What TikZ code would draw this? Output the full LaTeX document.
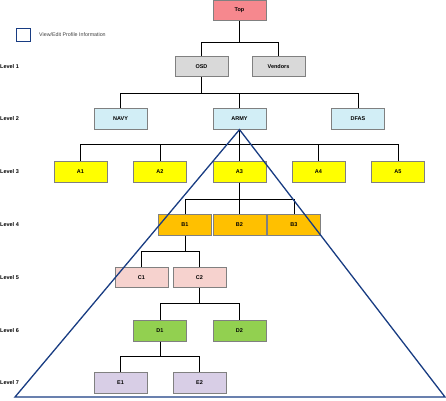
\documentclass[tikz,border=0pt]{standalone}
\usepackage{fontspec}
\setmainfont{Liberation Sans}
\definecolor{cTop}{RGB}{246,136,142}
\definecolor{cGray}{RGB}{217,217,217}
\definecolor{cCyan}{RGB}{210,238,246}
\definecolor{cYel}{RGB}{255,255,0}
\definecolor{cOra}{RGB}{255,192,0}
\definecolor{cPink}{RGB}{246,210,206}
\definecolor{cGreen}{RGB}{146,208,80}
\definecolor{cLav}{RGB}{216,206,230}
\definecolor{cBorder}{RGB}{128,128,128}
\definecolor{cBlue}{RGB}{24,60,130}
\begin{document}
\begin{tikzpicture}[x=1pt,y=-1pt,
  box/.style={draw=cBorder,line width=0.7pt,minimum width=53pt,minimum height=20.5pt,inner sep=0pt,
    font=\fontsize{5.5}{6}\selectfont\bfseries},
  lvl/.style={anchor=west,inner sep=0pt,font=\fontsize{5.5}{6}\selectfont\bfseries},
  conn/.style={draw=black,line width=1pt},
  tri/.style={draw=cBlue,line width=1.3pt,line join=miter}]
\useasboundingbox (0,0) rectangle (446,400);
% legend
\node[draw=cBlue,line width=1.3pt,fill=white,minimum width=14pt,minimum height=13pt,inner sep=0pt] (leg) at (23.5,35) {};
\node[anchor=west,inner sep=0pt,text=black!75,font=\fontsize{5.3}{6}\selectfont] (legt) at (39,35) {View/Edit Profile Information};
% level labels
\node[lvl] (l1) at (0,66.5) {Level 1};
\node[lvl] (l2) at (0,119) {Level 2};
\node[lvl] (l3) at (0,172) {Level 3};
\node[lvl] (l4) at (0,225) {Level 4};
\node[lvl] (l5) at (0,277.5) {Level 5};
\node[lvl] (l6) at (0,331) {Level 6};
\node[lvl] (l7) at (0,383) {Level 7};
% boxes
\node[box,fill=cTop] (top) at (239.5,10.3) {Top};
\node[box,fill=cGray] (osd) at (201.5,66.5) {OSD};
\node[box,fill=cGray] (ven) at (278.5,66.5) {Vendors};
\node[box,fill=cCyan] (navy) at (120.5,119) {NAVY};
\node[box,fill=cCyan] (army) at (239.5,119) {ARMY};
\node[box,fill=cCyan] (dfas) at (358,119) {DFAS};
\node[box,fill=cYel] (a1) at (80.5,172) {A1};
\node[box,fill=cYel] (a2) at (160,172) {A2};
\node[box,fill=cYel] (a3) at (239.5,172) {A3};
\node[box,fill=cYel] (a4) at (318.5,172) {A4};
\node[box,fill=cYel] (a5) at (398,172) {A5};
\node[box,fill=cOra] (b1) at (185,225) {B1};
\node[box,fill=cOra] (b2) at (239.5,225) {B2};
\node[box,fill=cOra] (b3) at (294,225) {B3};
\node[box,fill=cPink] (c1) at (141.5,277.5) {C1};
\node[box,fill=cPink] (c2) at (199.5,277.5) {C2};
\node[box,fill=cGreen] (d1) at (160,331) {D1};
\node[box,fill=cGreen] (d2) at (239.5,331) {D2};
\node[box,fill=cLav] (e1) at (120.5,383) {E1};
\node[box,fill=cLav] (e2) at (199.5,383) {E2};
% connectors
\foreach \c in {osd,ven} \draw[conn] (top.south) -- ++(0,22) -| (\c.north);
\foreach \c in {navy,army,dfas} \draw[conn] (osd.south) -- ++(0,16) -| (\c.north);
\foreach \c in {a1,a2,a3,a4,a5} \draw[conn] (army.south) -- ++(0,15) -| (\c.north);
\foreach \c in {b1,b2,b3} \draw[conn] (a3.south) -- ++(0,17) -| (\c.north);
\foreach \c in {c1,c2} \draw[conn] (b1.south) -- ++(0,16) -| (\c.north);
\foreach \c in {d1,d2} \draw[conn] (c2.south) -- ++(0,15) -| (\c.north);
\foreach \c in {e1,e2} \draw[conn] (d1.south) -- ++(0,15) -| (\c.north);
% triangle
\coordinate (tl) at (15,397);
\coordinate (tr) at (445,397);
\draw[tri] (army.south) -- (tl) -- (tr) -- cycle;
\end{tikzpicture}
\end{document}
